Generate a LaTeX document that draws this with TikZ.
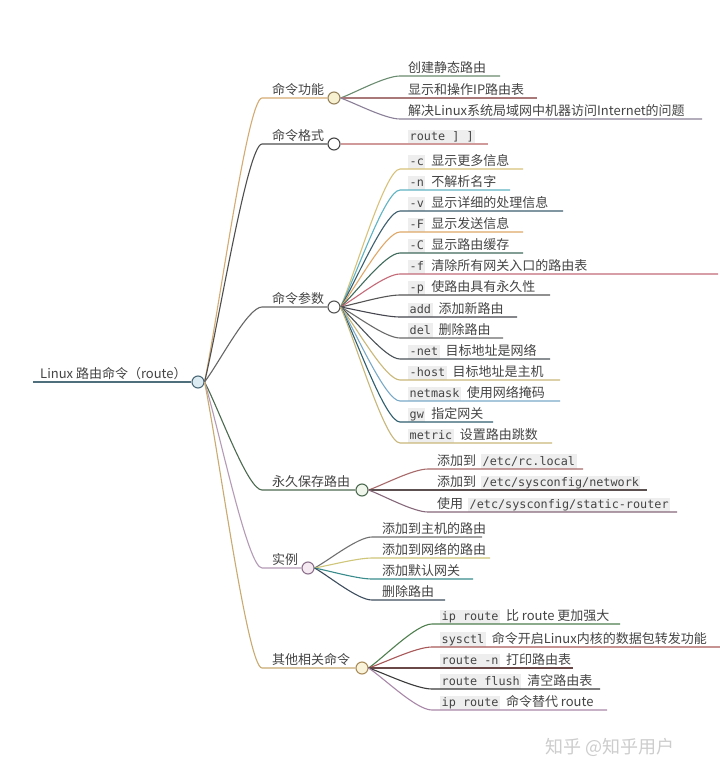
\documentclass[tikz,border=0pt]{standalone}
\usepackage{fontspec}
\setmainfont{Noto Sans CJK SC}
\setmonofont{DejaVu Sans Mono}
\usetikzlibrary{calc}
\definecolor{codebg}{HTML}{EEEEEE}
\definecolor{textc}{HTML}{444444}
\newcommand\code[1]{{\setlength\fboxsep{1.5pt}\colorbox{codebg}{\fontsize{11.8}{14}\ttfamily\vphantom{Ag}#1}}}
\newcommand\codesp[1]{\code{#1}\hspace{6pt}}
\tikzset{
  branch/.style={to path={let \p1=(\tikztostart),\p2=(\tikztotarget) in
     .. controls ({\x1+0.25*(\x2-\x1)},{\y1+0.25*(\y2-\y1)}) and ({\x1+0.75*(\x2-\x1)},{\y2}) .. (\tikztotarget)}},
  conn/.style={line width=1.1pt},
  leaftext/.style={anchor=base west, inner sep=0pt, text=textc, font=\fontsize{13}{15}\selectfont},
  circ/.style={circle, minimum size=12pt, inner sep=0pt, line width=1.1pt},
}
\newcommand\leafnode[8]{%
  \node[leaftext] (#1) at (#5,#3-4) {#8};
  \coordinate (#1a) at (#4,#3);
  \coordinate (#1b) at (#6,#3);
  \draw[conn,draw=#7] (#2.east) to[branch] (#1a) -- (#1b);
}
\begin{document}
\begin{tikzpicture}[x=1pt,y=-1pt]
\useasboundingbox (0,0) rectangle (720,779);
\fill[white] (0,0) rectangle (720,779);

% root
\node[leaftext] (rootlabel) at (40,378) {Linux 路由命令（route）};
\coordinate (rootstart) at (33,382);
\node[circ, fill={rgb,255:red,220;green,235;blue,242}, draw={rgb,255:red,75;green,105;blue,118}] (root) at (198,382) {};
\draw[line width=1.5pt, draw={rgb,255:red,79;green,111;blue,124}] (rootstart) -- (root.west);

% level 1 circles
\node[circ, fill={rgb,255:red,247;green,241;blue,210}, draw={rgb,255:red,150;green,130;blue,90}] (f0) at (334,98) {};
\node[circ, fill=white, draw={rgb,255:red,70;green,70;blue,70}] (f1) at (334,144) {};
\node[circ, fill=white, draw={rgb,255:red,85;green,85;blue,85}] (f2) at (334,307) {};
\node[circ, fill={rgb,255:red,240;green,246;blue,236}, draw={rgb,255:red,77;green,107;blue,80}] (f3) at (362,490) {};
\node[circ, fill={rgb,255:red,246;green,234;blue,242}, draw={rgb,255:red,140;green,112;blue,140}] (f4) at (308,568) {};
\node[circ, fill={rgb,255:red,250;green,243;blue,220}, draw={rgb,255:red,170;green,140;blue,90}] (f5) at (362,668) {};

% level 1 labels
\node[leaftext] (t0) at (272,94) {命令功能};
\node[leaftext] (t1) at (272,140) {命令格式};
\node[leaftext] (t2) at (272,303) {命令参数};
\node[leaftext] (t3) at (272,486) {永久保存路由};
\node[leaftext] (t4) at (272,564) {实例};
\node[leaftext] (t5) at (272,664) {其他相关命令};

% level 1 connectors
\coordinate (b0) at (262,98);
\coordinate (b1) at (262,144);
\coordinate (b2) at (262,307);
\coordinate (b3) at (262,490);
\coordinate (b4) at (262,568);
\coordinate (b5) at (262,668);
\draw[conn, draw={rgb,255:red,212;green,171;blue,114}] (root.east) to[branch] (b0) -- (f0.west);
\draw[conn, draw={rgb,255:red,79;green,79;blue,79}] (root.east) to[branch] (b1) -- (f1.west);
\draw[conn, draw={rgb,255:red,102;green,102;blue,102}] (root.east) to[branch] (b2) -- (f2.west);
\draw[conn, draw={rgb,255:red,77;green,107;blue,80}] (root.east) to[branch] (b3) -- (f3.west);
\draw[conn, draw={rgb,255:red,181;green,155;blue,181}] (root.east) to[branch] (b4) -- (f4.west);
\draw[conn, draw={rgb,255:red,201;green,171;blue,114}] (root.east) to[branch] (b5) -- (f5.west);

% 命令功能
\leafnode{a1}{f0}{76}{400}{408}{500}{{rgb,255:red,106;green,140;blue,112}}{创建静态路由}
\leafnode{a2}{f0}{98}{400}{408}{537}{{rgb,255:red,169;green,120;blue,120}}{显示和操作IP路由表}
\leafnode{a3}{f0}{119}{400}{408}{702}{{rgb,255:red,138;green,128;blue,152}}{解决Linux系统局域网中机器访问Internet的问题}

% 命令格式
\node[leaftext] (g1) at (408,140) {\code{route ] ]}};
\coordinate (g1b) at (488,144);
\draw[conn, draw={rgb,255:red,208;green,154;blue,154}] (f1.east) -- (g1b);

% 命令参数
\leafnode{p1}{f2}{169}{400}{408}{523}{{rgb,255:red,216;green,194;blue,122}}{\codesp{-c}显示更多信息}
\leafnode{p2}{f2}{190}{400}{408}{510}{{rgb,255:red,95;green,179;blue,195}}{\codesp{-n}不解析名字}
\leafnode{p3}{f2}{211}{400}{408}{563}{{rgb,255:red,61;green,95;blue,110}}{\codesp{-v}显示详细的处理信息}
\leafnode{p4}{f2}{232}{400}{408}{523}{{rgb,255:red,224;green,168;blue,104}}{\codesp{-F}显示发送信息}
\leafnode{p5}{f2}{253}{400}{408}{523}{{rgb,255:red,63;green,107;blue,92}}{\codesp{-C}显示路由缓存}
\leafnode{p6}{f2}{274}{400}{408}{718}{{rgb,255:red,196;green,106;blue,120}}{\codesp{-f}清除所有网关入口的路由表}
\leafnode{p7}{f2}{295}{400}{408}{550}{{rgb,255:red,85;green,85;blue,85}}{\codesp{-p}使路由具有永久性}
\leafnode{p8}{f2}{317}{400}{408}{517}{{rgb,255:red,69;green,69;blue,79}}{\codesp{add}添加新路由}
\leafnode{p9}{f2}{338}{400}{408}{503}{{rgb,255:red,106;green,106;blue,106}}{\codesp{del}删除路由}
\leafnode{p10}{f2}{359}{400}{408}{550}{{rgb,255:red,74;green,83;blue,88}}{\codesp{-net}目标地址是网络}
\leafnode{p11}{f2}{380}{400}{408}{560}{{rgb,255:red,201;green,184;blue,120}}{\codesp{-host}目标地址是主机}
\leafnode{p12}{f2}{401}{400}{408}{560}{{rgb,255:red,122;green,169;blue,200}}{\codesp{netmask}使用网络掩码}
\leafnode{p13}{f2}{422}{400}{408}{493}{{rgb,255:red,47;green,95;blue,111}}{\codesp{gw}指定网关}
\leafnode{p14}{f2}{443}{400}{408}{552}{{rgb,255:red,200;green,183;blue,122}}{\codesp{metric}设置路由跳数}

% 永久保存路由
\leafnode{s1}{f3}{469}{428}{437}{583}{{rgb,255:red,168;green,106;blue,106}}{添加到\hspace{5pt}\code{/etc/rc.local}}
\leafnode{s2}{f3}{490}{428}{437}{647}{{rgb,255:red,93;green,80;blue,80}}{添加到\hspace{5pt}\code{/etc/sysconfig/network}}
\leafnode{s3}{f3}{512}{428}{437}{677}{{rgb,255:red,134;green,104;blue,122}}{使用\hspace{5pt}\code{/etc/sysconfig/static-router}}

% 实例
\leafnode{e1}{f4}{537}{372}{382}{482}{{rgb,255:red,112;green,112;blue,112}}{添加到主机的路由}
\leafnode{e2}{f4}{558}{372}{382}{490}{{rgb,255:red,207;green,198;blue,122}}{添加到网络的路由}
\leafnode{e3}{f4}{579}{372}{382}{473}{{rgb,255:red,58;green,140;blue,140}}{添加默认网关}
\leafnode{e4}{f4}{600}{372}{382}{445}{{rgb,255:red,61;green,77;blue,94}}{删除路由}

% 其他相关命令
\leafnode{o1}{f5}{624}{432}{440}{620}{{rgb,255:red,79;green,127;blue,79}}{\codesp{ip route}比 route 更加强大}
\leafnode{o2}{f5}{647}{432}{440}{720}{{rgb,255:red,168;green,88;blue,88}}{\codesp{sysctl}命令开启Linux内核的数据包转发功能}
\leafnode{o3}{f5}{668}{432}{440}{573}{{rgb,255:red,106;green,72;blue,72}}{\codesp{route -n}打印路由表}
\leafnode{o4}{f5}{689}{432}{440}{600}{{rgb,255:red,58;green,58;blue,58}}{\codesp{route flush}清空路由表}
\leafnode{o5}{f5}{710}{432}{440}{607}{{rgb,255:red,168;green,136;blue,168}}{\codesp{ip route}命令替代 route}

% watermark
\node[anchor=base west, inner sep=0pt, text={rgb,255:red,205;green,205;blue,205}, font=\fontsize{18}{20}\selectfont] (wm) at (545,753) {知乎 @知乎用户};
\end{tikzpicture}
\end{document}
